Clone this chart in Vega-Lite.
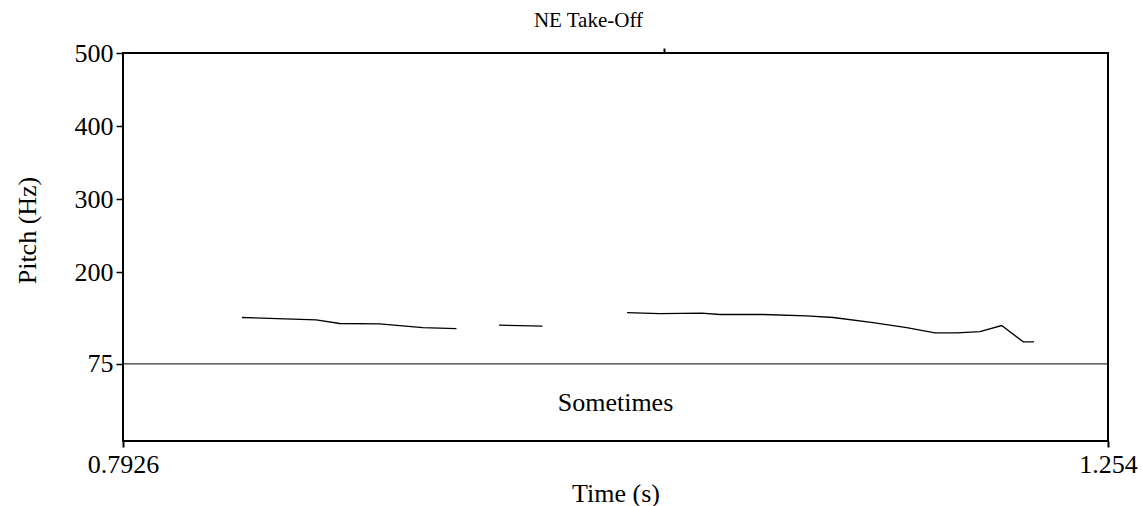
{
  "$schema": "https://vega.github.io/schema/vega-lite/v6.json",
  "width": 985,
  "height": 388,
  "autosize": "none",
  "padding": {"left": 123, "top": 53, "right": 35, "bottom": 65},
  "background": "white",
  "config": {
    "font": "Times New Roman, Liberation Serif, DejaVu Serif, serif",
    "view": {"stroke": "black", "strokeWidth": 2},
    "axis": {"grid": false, "domain": false, "tickColor": "black", "labelColor": "black", "titleColor": "black", "titleFontWeight": "normal", "labelFont": "Times New Roman, Liberation Serif, DejaVu Serif, serif", "titleFont": "Times New Roman, Liberation Serif, DejaVu Serif, serif"}
  },
  "datasets": {
    "pitch": [
      {"seg": 1, "t": 0.8483, "f0": 138.4},
      {"seg": 1, "t": 0.8831, "f0": 135.2},
      {"seg": 1, "t": 0.8941, "f0": 130.2},
      {"seg": 1, "t": 0.9128, "f0": 129.7},
      {"seg": 1, "t": 0.9236, "f0": 127.0},
      {"seg": 1, "t": 0.9330, "f0": 124.7},
      {"seg": 1, "t": 0.9488, "f0": 123.3},
      {"seg": 2, "t": 0.9687, "f0": 128.0},
      {"seg": 2, "t": 0.9891, "f0": 126.6},
      {"seg": 3, "t": 1.0287, "f0": 145.2},
      {"seg": 3, "t": 1.0440, "f0": 143.8},
      {"seg": 3, "t": 1.0636, "f0": 144.4},
      {"seg": 3, "t": 1.0722, "f0": 142.5},
      {"seg": 3, "t": 1.0925, "f0": 142.5},
      {"seg": 3, "t": 1.1128, "f0": 140.7},
      {"seg": 3, "t": 1.1253, "f0": 138.4},
      {"seg": 3, "t": 1.1440, "f0": 131.5},
      {"seg": 3, "t": 1.1597, "f0": 124.7},
      {"seg": 3, "t": 1.1729, "f0": 117.4},
      {"seg": 3, "t": 1.1831, "f0": 117.4},
      {"seg": 3, "t": 1.1940, "f0": 119.2},
      {"seg": 3, "t": 1.2042, "f0": 127.4},
      {"seg": 3, "t": 1.2143, "f0": 105.1},
      {"seg": 3, "t": 1.2193, "f0": 105.1}
    ],
    "floor": [{"f0": 75}],
    "words": [{"t": 1.0233, "f0": 21.6, "word": "Sometimes"}],
    "marks": [{"t": 1.046, "label": "NE Take-Off"}]
  },
  "resolve": {"axis": {"x": "independent", "y": "independent"}},
  "layer": [
    {
      "data": {"name": "pitch"},
      "mark": {"type": "line", "color": "black", "strokeWidth": 1.3, "clip": true},
      "encoding": {
        "x": {
          "field": "t", "type": "quantitative",
          "scale": {"domain": [0.7926, 1.254], "nice": false, "zero": false},
          "axis": {
            "orient": "bottom", "title": "Time (s)", "values": [0.7926, 1.254],
            "labelExpr": "datum.value < 1 ? '0.7926' : '1.254'",
            "tickSize": 6, "tickWidth": 2, "labelPadding": 4, "labelFontSize": 26,
            "labelFlush": false, "labelBound": false, "labelOverlap": false,
            "titleFontSize": 26,
            "titleX": 492.5, "titleY": 52, "titleBaseline": "middle", "titleAlign": "center"
          }
        },
        "y": {
          "field": "f0", "type": "quantitative",
          "scale": {"domain": [-30.4, 500], "nice": false, "zero": false},
          "axis": {
            "orient": "left", "title": "Pitch (Hz)", "values": [75, 200, 300, 400, 500],
            "tickSize": 7, "tickWidth": 1.5, "labelPadding": 3, "labelFontSize": 26,
            "labelFlush": false, "labelBound": false, "labelOverlap": false,
            "titleFontSize": 26,
            "titleAngle": -90, "titleX": -96, "titleY": 177,
            "titleBaseline": "middle", "titleAlign": "center"
          }
        },
        "detail": {"field": "seg", "type": "nominal"}
      }
    },
    {
      "data": {"name": "floor"},
      "mark": {"type": "rule", "color": "black", "strokeWidth": 1},
      "encoding": {
        "y": {"field": "f0", "type": "quantitative", "axis": null}
      }
    },
    {
      "data": {"name": "words"},
      "mark": {"type": "text", "color": "black", "font": "Times New Roman, Liberation Serif, DejaVu Serif, serif", "fontSize": 26, "align": "center", "baseline": "middle"},
      "encoding": {
        "x": {"field": "t", "type": "quantitative", "axis": null},
        "y": {"field": "f0", "type": "quantitative", "axis": null},
        "text": {"field": "word"}
      }
    },
    {
      "data": {"name": "marks"},
      "mark": {"type": "point", "opacity": 0},
      "encoding": {
        "x": {
          "field": "t", "type": "quantitative",
          "axis": {
            "orient": "top", "title": null, "values": [1.046],
            "labelExpr": "'NE Take-Off'",
            "labelColor": "black",
            "tickSize": 5, "tickWidth": 2, "tickColor": "black", "labelPadding": 18, "labelFontSize": 21,
            "labelOffset": -76, "labelFlush": false, "labelBound": false, "domain": false, "grid": false
          }
        }
      }
    }
  ]
}
